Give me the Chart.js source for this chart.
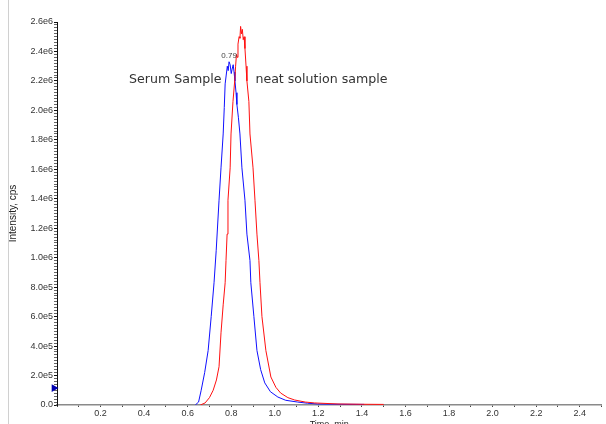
<!DOCTYPE html>
<html>
<head>
<meta charset="utf-8">
<script src="https://cdn.jsdelivr.net/npm/chart.js@4"></script>
<style>
html, body { margin: 0; padding: 0; background: #fff; overflow: hidden; }
#wrap { position: relative; width: 606px; height: 424px; overflow: hidden; }
#wrap canvas { position: absolute; left: 0; top: 0; }
#edge { position: absolute; left: 8px; top: 0; width: 1px; height: 424px; background: #d0d0d0; }
</style>
</head>
<body>
<div id="wrap">
  <canvas id="xic" width="606" height="430"></canvas>
  <div id="edge"></div>
</div>
<script>
// serum sample trace (blue)
var serumTime = [0.635, 0.650, 0.662, 0.678, 0.694, 0.708, 0.721, 0.731, 0.744, 0.753, 0.763, 0.768,
    0.772, 0.777, 0.782, 0.786, 0.790, 0.795, 0.800, 0.804, 0.809, 0.813, 0.817, 0.822, 0.826, 0.833,
    0.840, 0.849, 0.863, 0.872, 0.886, 0.890, 0.904, 0.918, 0.935, 0.954, 0.980, 1.014, 1.050, 1.105,
    1.150, 1.196, 1.300, 1.410]
var serumIntensity = [0, 2.0e4, 1.0e5, 2.2e5, 3.7e5, 6.0e5, 8.3e5, 1.05e6, 1.39e6, 1.61e6, 1.84e6, 2.02e6,
    2.18e6, 2.24e6, 2.30e6, 2.27e6, 2.33e6, 2.31e6, 2.25e6, 2.28e6, 2.31e6, 2.26e6, 2.20e6, 2.12e6, 2.04e6, 1.95e6,
    1.84e6, 1.61e6, 1.39e6, 1.16e6, 9.8e5, 8.3e5, 6.0e5, 3.7e5, 2.4e5, 1.5e5, 9.0e4, 5.4e4, 3.2e4, 2.0e4,
    1.2e4, 7e3, 5e3, 4e3]

// neat solution trace (red)
var neatTime = [0.658, 0.680, 0.700, 0.717, 0.732, 0.744, 0.753, 0.763, 0.772, 0.776, 0.781, 0.785,
    0.795, 0.799, 0.808, 0.817, 0.820, 0.824, 0.828, 0.831, 0.836, 0.840, 0.843, 0.847, 0.851, 0.855,
    0.859, 0.863, 0.868, 0.872, 0.881, 0.886, 0.900, 0.909, 0.918, 0.927, 0.932, 0.941, 0.959, 0.982,
    1.005, 1.027, 1.060, 1.091, 1.140, 1.183, 1.290, 1.400, 1.500]
var neatIntensity = [0, 1.4e4, 5.0e4, 1.0e5, 1.7e5, 2.6e5, 4.9e5, 6.8e5, 8.3e5, 9.8e5, 1.16e6, 1.39e6,
    1.61e6, 1.84e6, 2.06e6, 2.22e6, 2.30e6, 2.38e6, 2.36e6, 2.45e6, 2.50e6, 2.49e6, 2.57e6, 2.52e6, 2.55e6, 2.48e6,
    2.50e6, 2.42e6, 2.30e6, 2.20e6, 2.06e6, 1.84e6, 1.61e6, 1.39e6, 1.16e6, 9.8e5, 8.3e5, 6.0e5, 3.7e5, 1.9e5,
    1.2e5, 8.1e4, 5.0e4, 3.4e4, 2.0e4, 1.4e4, 7e3, 5e3, 4e3]

// little threshold marker on the y axis
var markerTime = [-0.014]
var markerIntensity = [1.15e5]

// text notes in data units
var noteText = ["0.79", "Serum Sample", "neat solution sample"]
var noteTime = [0.79, 0.331, 0.911]
var noteIntensity = [2.37e6, 2.21e6, 2.21e6]

function toPoints(xs, ys) {
    var pts = []
    for (var i = 0; i < xs.length; i++) {
        pts.push({ x: xs[i], y: ys[i] })
    }
    return pts
}

function intensityLabel(v) {
    if (Math.round(v / 2e4) % 10 !== 0) return ""
    if (v < 1) return "0.0"
    if (v < 1e6) return (v / 1e5).toFixed(1) + "e5"
    return (v / 1e6).toFixed(1) + "e6"
}

function timeLabel(v) {
    var k = Math.round(v * 10)
    if (k <= 0 || k % 2 !== 0) return ""
    return (k / 10).toFixed(1)
}

// draws the peak labels
const notesPlugin = {
    id: "notes",
    afterDatasetsDraw(chart) {
        var ctx = chart.ctx
        var xs = chart.scales.x
        var ys = chart.scales.y
        ctx.save()
        ctx.textBaseline = "middle"
        for (var i = 0; i < noteText.length; i++) {
            var px = xs.getPixelForValue(noteTime[i])
            var py = ys.getPixelForValue(noteIntensity[i])
            if (i === 0) {
                ctx.font = "8px 'Liberation Sans'"
                ctx.fillStyle = "#444"
                ctx.textAlign = "center"
            } else {
                ctx.font = "12.6px 'DejaVu Sans'"
                ctx.fillStyle = "#333"
                ctx.textAlign = "left"
            }
            ctx.fillText(noteText[i], px, py)
        }
        ctx.restore()
    }
}

const tickFont = { family: "'Liberation Sans', Arial, sans-serif", size: 9 }

const xicChart = new Chart(document.getElementById("xic"), {
    type: "scatter",
    data: {
        datasets: [
            {
                label: "neat solution sample",
                data: toPoints(neatTime, neatIntensity),
                showLine: true,
                borderColor: "#ff1010",
                borderWidth: 1,
                pointRadius: 0,
                tension: 0
            },
            {
                label: "Serum Sample",
                data: toPoints(serumTime, serumIntensity),
                showLine: true,
                borderColor: "#1010ff",
                borderWidth: 1,
                pointRadius: 0,
                tension: 0
            },
            {
                label: "marker",
                data: toPoints(markerTime, markerIntensity),
                showLine: false,
                pointStyle: "triangle",
                rotation: 90,
                pointRadius: 4.5,
                backgroundColor: "#0000b0",
                borderWidth: 0,
                clip: false
            }
        ]
    },
    options: {
        responsive: false,
        animation: false,
        devicePixelRatio: 1,
        layout: { padding: { top: 22, right: 0, bottom: 0, left: 0 } },
        plugins: {
            legend: { display: false },
            tooltip: { enabled: false }
        },
        scales: {
            x: {
                type: "linear",
                min: 0,
                max: 2.5,
                border: { color: "#8a8a8a", width: 1.5 },
                grid: { drawOnChartArea: false, tickLength: 2, tickColor: "#444" },
                ticks: {
                    stepSize: 0.1,
                    autoSkip: false,
                    maxRotation: 0,
                    padding: 1,
                    color: "#333",
                    font: tickFont,
                    callback: function (v) { return timeLabel(v) }
                },
                title: {
                    display: true,
                    text: "Time, min",
                    color: "#222",
                    font: { family: "'Liberation Sans', Arial, sans-serif", size: 9 },
                    padding: { top: 0, bottom: 0 }
                },
                afterFit: function (s) { s.height = 25 }
            },
            y: {
                min: 0,
                max: 2.6e6,
                border: { color: "#111", width: 1 },
                grid: {
                    drawOnChartArea: false,
                    tickLength: 3,
                    tickColor: function (c) {
                        return intensityLabel(c.tick.value) ? "#111" : "#666"
                    }
                },
                ticks: {
                    stepSize: 2e4,
                    autoSkip: false,
                    padding: 1,
                    color: "#333",
                    font: tickFont,
                    callback: function (v) { return intensityLabel(v) }
                },
                title: {
                    display: true,
                    text: "Intensity, cps",
                    color: "#222",
                    font: { family: "'Liberation Sans', Arial, sans-serif", size: 10 },
                    padding: { top: 7, bottom: 0 }
                },
                afterFit: function (s) { s.width = 57 }
            }
        }
    },
    plugins: [notesPlugin]
});
</script>
</body>
</html>
